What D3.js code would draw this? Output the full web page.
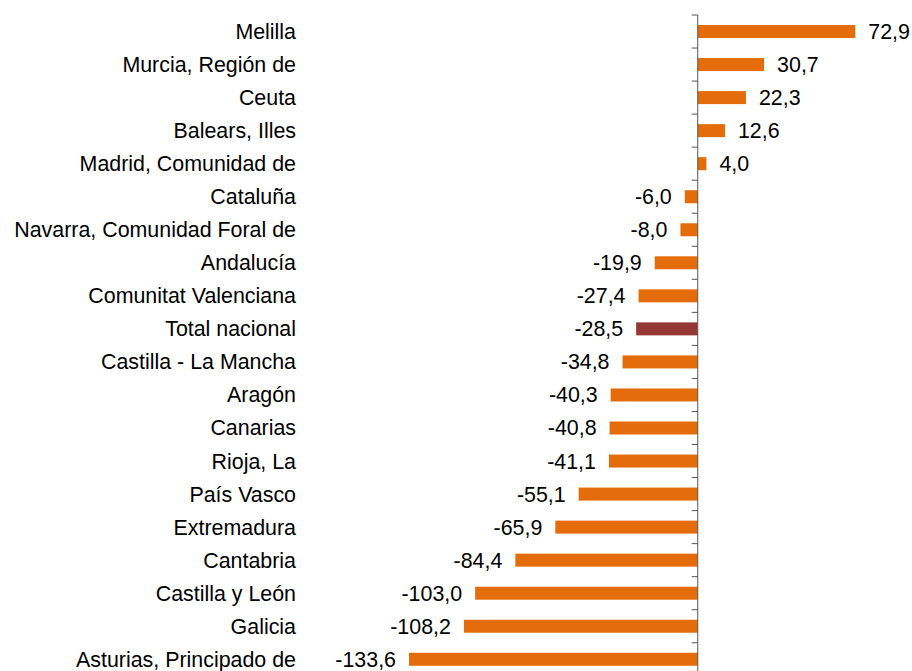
<!DOCTYPE html>
<html>
<head>
<meta charset="utf-8">
<script src="https://cdn.jsdelivr.net/npm/d3@7/dist/d3.min.js"></script>
<style>
body { margin: 0; background: #fff; }
text { font-family: "Liberation Sans", Arial, sans-serif; }
</style>
</head>
<body>
<div id="chart"></div>
<script>
var regions = ["Melilla", "Murcia, Región de", "Ceuta", "Balears, Illes",
    "Madrid, Comunidad de", "Cataluña", "Navarra, Comunidad Foral de",
    "Andalucía", "Comunitat Valenciana", "Total nacional",
    "Castilla - La Mancha", "Aragón", "Canarias", "Rioja, La", "País Vasco",
    "Extremadura", "Cantabria", "Castilla y León", "Galicia",
    "Asturias, Principado de"];
var values = [72.9, 30.7, 22.3, 12.6, 4.0, -6.0, -8.0, -19.9, -27.4, -28.5,
    -34.8, -40.3, -40.8, -41.1, -55.1, -65.9, -84.4, -103.0, -108.2, -133.6];
var highlight = "Total nacional";

function init() {
    var w = 912;
    var h = 671;

    var svg = d3.select("#chart")
                .append("svg")
                .attr("width", w)
                .attr("height", h);

    // 2.162 px per unit, zero at 697.7
    var x = d3.scaleLinear()
              .domain([-133.6, 72.9])
              .range([409, 855.3]);

    var y = d3.scaleBand()
              .domain(regions)
              .range([15, 15 + 33.04 * regions.length])
              .paddingInner(0.6)
              .paddingOuter(0.3);

    var color = function(d) { return d === highlight ? "#953735" : "#E46C0A"; };

    // bars
    svg.selectAll("rect.bar")
        .data(regions)
        .enter()
        .append("rect")
        .attr("class", "bar")
        .attr("x", function(d, i) { return Math.min(x(0), x(values[i])); })
        .attr("width", function(d, i) { return Math.abs(x(values[i]) - x(0)); })
        .attr("y", function(d) { return y(d) + y.bandwidth() / 2 - 6.5; })
        .attr("height", 13)
        .attr("fill", color);

    // axis at zero with ticks between categories
    var axisX = x(0);
    var step = y.step();
    var top = 15;
    svg.append("line")
        .attr("x1", axisX).attr("x2", axisX)
        .attr("y1", top).attr("y2", h)
        .attr("stroke", "#555")
        .attr("stroke-width", 1);

    svg.selectAll("line.tick")
        .data(d3.range(regions.length + 1))
        .enter()
        .append("line")
        .attr("class", "tick")
        .attr("x1", axisX - 6).attr("x2", axisX)
        .attr("y1", function(d) { return top + d * step; })
        .attr("y2", function(d) { return top + d * step; })
        .attr("stroke", "#555")
        .attr("stroke-width", 1);

    // category labels
    svg.selectAll("text.cat")
        .data(regions)
        .enter()
        .append("text")
        .attr("class", "cat")
        .attr("x", 296)
        .attr("y", function(d) { return y(d) + y.bandwidth() / 2; })
        .attr("dy", "0.35em")
        .attr("text-anchor", "end")
        .attr("font-size", "21.4px")
        .attr("fill", "#000")
        .text(function(d) { return d; });

    // value labels
    var fmt = function(v) { return v.toFixed(1).replace(".", ","); };
    svg.selectAll("text.val")
        .data(regions)
        .enter()
        .append("text")
        .attr("class", "val")
        .attr("x", function(d, i) { return values[i] >= 0 ? x(values[i]) + 13 : x(values[i]) - 13; })
        .attr("y", function(d) { return y(d) + y.bandwidth() / 2; })
        .attr("dy", "0.35em")
        .attr("text-anchor", function(d, i) { return values[i] >= 0 ? "start" : "end"; })
        .attr("font-size", "21.4px")
        .attr("fill", "#000")
        .text(function(d, i) { return fmt(values[i]); });
}

window.onload = init;
</script>
</body>
</html>
